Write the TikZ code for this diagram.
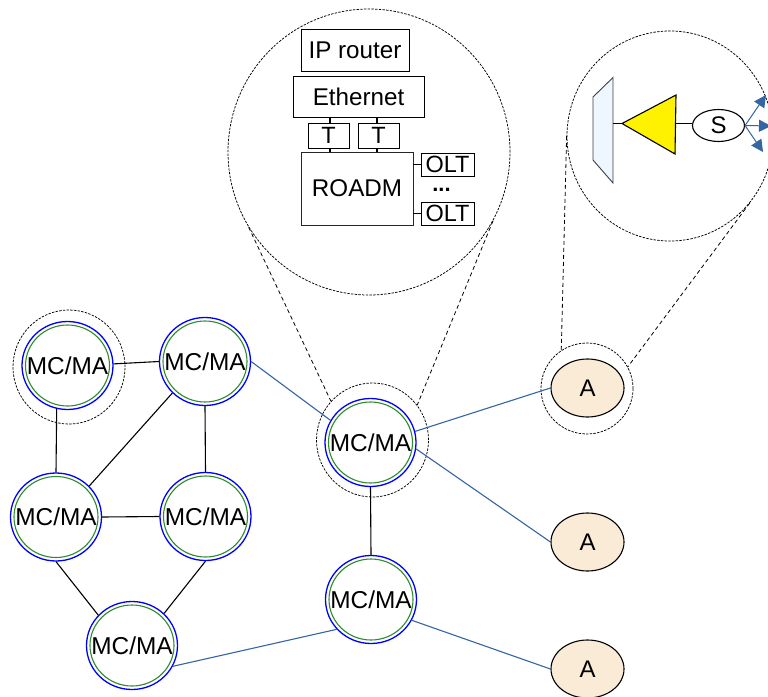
\documentclass[tikz,border=0pt]{standalone}
\usepackage{fontspec}
\setmainfont{Liberation Sans}
\usetikzlibrary{shapes.geometric,arrows.meta}
\definecolor{linkblue}{HTML}{3465A4}
\definecolor{ringgreen}{HTML}{2E8B2E}
\definecolor{afill}{HTML}{FAEBD7}
\definecolor{trapfill}{HTML}{EEF6FF}
\tikzset{
  mcnode/.style={ellipse,draw=blue,line width=1.3pt,minimum width=91pt,minimum height=88pt,inner sep=0pt,font=\fontsize{24.4}{24.4}\selectfont},
  ring/.style={draw=ringgreen,line width=1.1pt},
  anode/.style={ellipse,draw=black,fill=afill,line width=1.1pt,minimum width=73pt,minimum height=58pt,inner sep=0pt,font=\fontsize{24}{24}\selectfont},
  halo/.style={ellipse,draw=black,line width=.75pt,dash pattern=on 2.4pt off 1.3pt,inner sep=0pt},
  zoomlink/.style={draw=black,line width=.8pt,dash pattern=on 4pt off 3pt},
  blacklink/.style={draw=black,line width=1.1pt},
  bluelink/.style={draw=linkblue,line width=1.1pt},
  boxnode/.style={rectangle,draw=black,line width=.9pt,inner sep=0pt,font=\fontsize{24.2}{24.2}\selectfont},
  smallbox/.style={rectangle,draw=black,line width=.9pt,inner sep=0pt,font=\fontsize{23.5}{23.5}\selectfont},
  arrowlink/.style={draw=linkblue,line width=1pt,-{Triangle[length=12pt,width=12pt]}},
}
\newcommand{\mcat}[3]{%
  \node[mcnode] (#1) at (#2,#3) {\makebox[0pt][c]{MC/MA}};
  \draw[ring] (#1.center) ellipse [x radius=42,y radius=40.5];
}
\begin{document}
\begin{tikzpicture}[x=1pt,y=-1pt]
\clip (0,0) rectangle (768,696);
\fill[white] (0,0) rectangle (768,696);

% halos
\node[halo,minimum width=112pt,minimum height=114pt] (hL) at (69,367) {};
\node[halo,minimum width=112pt,minimum height=114pt] (hF) at (372.5,440) {};
\node[halo,minimum width=92pt,minimum height=91pt] (hA) at (587,388.5) {};
\node[halo,minimum width=282pt,minimum height=286pt] (zoomL) at (369,152) {};
\node[halo,minimum width=206pt,minimum height=210pt] (zoomR) at (670,136) {};

% MC/MA nodes
\mcat{a}{67.5}{365.5}
\mcat{b}{205}{361.5}
\mcat{c}{56}{517}
\mcat{d}{205.5}{516.5}
\mcat{e}{132}{645.5}
\mcat{f}{370.5}{442.5}
\mcat{g}{371}{599.5}

% A nodes
\node[anode] (a1) at (587.5,388) {\makebox[0pt][c]{A}};
\node[anode] (a2) at (587.5,542) {\makebox[0pt][c]{A}};
\node[anode] (a3) at (587.5,669) {\makebox[0pt][c]{A}};

% black links
\draw[blacklink] (a.2) -- (b.180);
\draw[blacklink] (a.256) -- (c.90);
\draw[blacklink] (b.224.5) -- (c.43);
\draw[blacklink] (b.270) -- (d.90);
\draw[blacklink] (c.0) -- (d.180);
\draw[blacklink] (c.270) -- (e.138);
\draw[blacklink] (d.270) -- (e.45);
\draw[blacklink] (f.270) -- (g.90);

% blue links
\draw[bluelink] (b.0) -- (f.151);
\draw[bluelink] (f.14) -- (a1.180);
\draw[bluelink] (f.-8) -- (a2.180);
\draw[bluelink] (g.-27) -- (a3.180);
\draw[bluelink] (e.-27) -- (g.221);

% dashed zoom links
\draw[zoomlink] (zoomL.212.4) -- (hF.137);
\draw[zoomlink] (zoomL.-29) -- (hF.38);
\draw[zoomlink] (zoomR.180) -- (hA.124);
\draw[zoomlink] (zoomR.-40) -- (hA.28);

% left zoom contents
\node[boxnode,minimum width=108pt,minimum height=42pt] (ip) at (355,50) {IP router};
\node[boxnode,minimum width=131pt,minimum height=41pt] (eth) at (358.5,96.5) {Ethernet};
\node[smallbox,minimum width=41pt,minimum height=25pt] (t1) at (328.5,135.5) {T};
\node[smallbox,minimum width=41pt,minimum height=25pt] (t2) at (378.5,135.5) {T};
\node[boxnode,draw=black!85,minimum width=112pt,minimum height=73pt] (roadm) at (357,188.5) {ROADM};
\node[smallbox,minimum width=53pt,minimum height=23pt] (o1) at (447.5,164.5) {OLT};
\node[smallbox,minimum width=53pt,minimum height=23pt] (o2) at (447.5,213.5) {OLT};
\node[font=\fontsize{22}{22}\selectfont\bfseries,inner sep=0pt] (dots) at (441.5,190) {...};
\draw[blacklink] ([xshift=-28.5pt]eth.south) -- ([xshift=1.5pt]t1.north);
\draw[blacklink] ([xshift=18.5pt]eth.south) -- ([xshift=-1.5pt]t2.north);
\draw[blacklink] ([xshift=1.5pt]t1.south) -- ([xshift=-27pt]roadm.north);
\draw[blacklink] ([xshift=-1.5pt]t2.south) -- ([xshift=20pt]roadm.north);
\draw[blacklink] (o1.west) -- (o1.west -| roadm.east);
\draw[blacklink] (o2.west) -- (o2.west -| roadm.east);

% right zoom contents
\coordinate (apex) at (622,123.5);
\coordinate (tritop) at (676,95);
\coordinate (tribot) at (675,154);
\coordinate (triback) at (675.5,123.5);
\coordinate (trapmid) at (613,123.5);
\filldraw[draw=black!75,fill=trapfill,line width=.9pt] (593,97) -- (613,77.5) -- (613,183) -- (593,160) -- cycle;
\draw[fill=yellow,draw=black,line width=1.1pt] (apex) -- (tritop) -- (tribot) -- cycle;
\node[ellipse,draw=black,line width=1.1pt,minimum width=52pt,minimum height=32pt,inner sep=0pt,font=\fontsize{24}{24}\selectfont] (s) at (718.5,125.5) {\makebox[0pt][c]{S}};
\draw[blacklink] (trapmid) -- (apex);
\draw[blacklink] (triback) -- (s.west |- triback);
\coordinate (t1end) at (766,95);
\coordinate (t2end) at (771,126);
\coordinate (t3end) at (763,152);
\draw[arrowlink] (s.east) -- (t1end);
\draw[arrowlink] (s.east) -- (t2end);
\draw[arrowlink] (s.east) -- (t3end);
\end{tikzpicture}
\end{document}
